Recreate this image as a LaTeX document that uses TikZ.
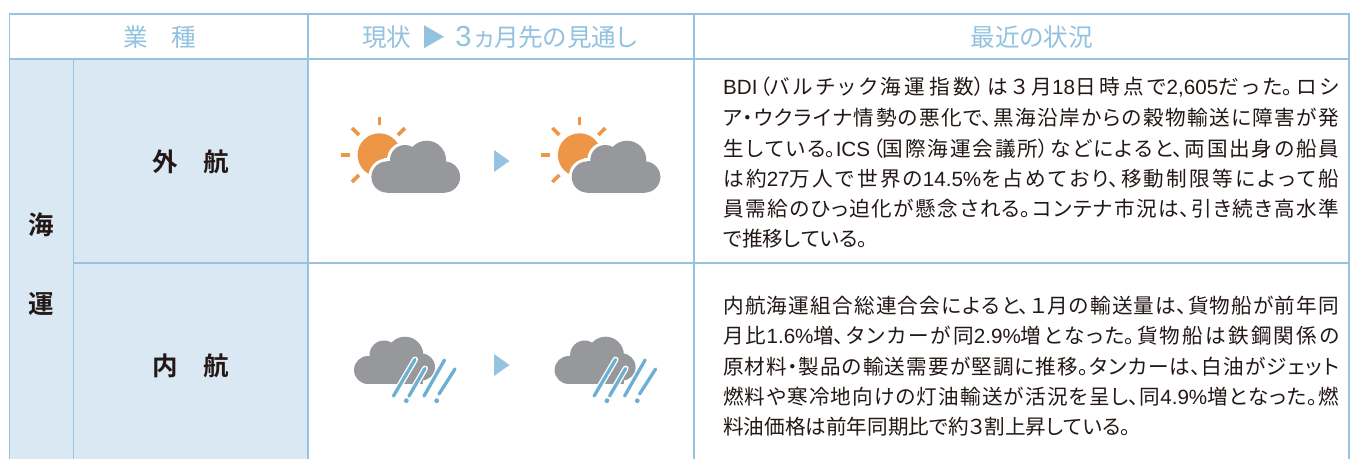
\documentclass[tikz,border=0pt]{standalone}
\usepackage{fontspec}
\setmainfont{Noto Sans CJK JP}[RawFeature=+palt]
\newfontfamily\jpbold{Noto Sans CJK JP Bold}[RawFeature=+palt]
\newfontfamily\latfont{Liberation Sans}
\newcommand{\lat}[1]{{\latfont #1}}
\XeTeXlinebreaklocale "ja"
\XeTeXlinebreakskip=0pt plus 2pt minus 2pt
\definecolor{rule}{HTML}{95C3E0}
\definecolor{band}{HTML}{DAE8F3}
\definecolor{headtxt}{HTML}{92C2DF}
\definecolor{sun}{HTML}{EE9648}
\definecolor{cloud}{HTML}{97989C}
\definecolor{rain}{HTML}{6BAFD2}
\definecolor{ink}{HTML}{231815}
\newcommand{\fullline}[1]{\parbox{616pt}{\tolerance=9999\hbadness=10000\hfuzz=40pt\parfillskip=0pt\relax #1}}
\newcommand{\lastline}[1]{\parbox{616pt}{\XeTeXlinebreakskip=0pt plus 1pt minus 1pt\spaceskip=0pt #1}}
\newcommand{\suncloud}[2]{%
 \begin{scope}[shift={(#1,#2)}]
  \fill[sun] (59.3,55) circle (21.7);
  \foreach \a/\b/\c/\d in {59.3/17/59.3/25,32/28/39/35,85/28/78/35,21/55/30/55,32/82/39/75}{
   \draw[sunray] (\a,\b) -- (\c,\d);}
  \begin{scope}[cloudhalo]
   \cloudshapeA
  \end{scope}
  \begin{scope}[cloudfill]
   \cloudshapeA
  \end{scope}
 \end{scope}}
\newcommand{\cloudshapeA}{%
  \path (67,77) circle (15.6);
  \path (124.5,77) circle (15.6);
  \path (106.7,60) circle (19.3);
  \path (85,60) circle (15);
  \path (67,61.4) rectangle (124.5,92.6);}
\newcommand{\raincloud}[2]{%
 \begin{scope}[shift={(#1,#2)}]
  \begin{scope}[cloudfill]
   \path (28,50) circle (14);
   \path (65,35) circle (18.3);
   \path (44,35) circle (14.5);
   \path (81.5,47) circle (13.5);
   \path (28,42) rectangle (83,63.7);
  \end{scope}
  \draw[rainhalo] (53.5,76) -- (75,39.5);
  \draw[rainhalo] (69,76) -- (85,48.5);
  \draw[rainline] (53.5,76) -- (75,39.5);
  \draw[rainline] (69,76) -- (85,48.5);
  \draw[rainline] (84,76) -- (104.5,40);
  \draw[rainline] (99,74) -- (115,49);
  \fill[rain] (66.3,80.7) circle (2.4);
  \fill[rain] (96.7,80.7) circle (2.4);
 \end{scope}}
\tikzset{
 gridline/.style={draw=rule,line width=1.9pt},
 thinline/.style={draw=rule,line width=1.5pt},
 sunray/.style={draw=sun,line width=3.6pt},
 cloudfill/.style={every path/.append style={fill=cloud,draw=none}},
 cloudhalo/.style={every path/.append style={fill=white,draw=white,line width=6pt}},
 rainhalo/.style={draw=white,line width=6pt,line cap=round},
 rainline/.style={draw=rain,line width=3.3pt,line cap=round},
 headtext/.style={text=headtxt,font=\fontsize{24.6}{26}\selectfont,inner sep=0pt,anchor=center},
 rowtext/.style={text=ink,font=\jpbold\fontsize{25.5}{27}\selectfont,inner sep=0pt,anchor=center},
 bodytext/.style={text=ink,font=\fontsize{20.6}{24}\selectfont,inner sep=0pt,anchor=west,text depth=0pt},
 triangle/.style={fill=rule,draw=none}
}
\begin{document}
\begin{tikzpicture}[x=1pt,y=-1pt]
\useasboundingbox (0,0) rectangle (1361,459);
\fill[white] (0,0) rectangle (1361,459);
\fill[band] (9,59) rectangle (308,459);
% grid
\draw[gridline] (9.5,459) -- (9.5,14) -- (1349,14) -- (1349,459);
\draw[gridline] (9.5,59) -- (1349,59);
\draw[thinline] (73.5,59) -- (73.5,459);
\draw[thinline] (308,14) -- (308,459);
\draw[gridline] (694,14) -- (694,459);
\draw[gridline] (73.5,263) -- (1349,263);
% headers
\node[headtext] (hA) at (160,37) {業\hspace{0.95em}種};
\node[headtext] (hB) at (499.5,37) {現状\hspace{0.4em}▶\hspace{0.4em}{\fontsize{29}{30}\selectfont\lat{3}}\hspace{0.1em}ヵ月先の見通し};
\node[headtext] (hC) at (1032,37) {最近の状況};
% row labels
\node[rowtext] (kaiA) at (41.5,225) {海};
\node[rowtext] (kaiB) at (41.5,304) {運};
\node[rowtext] (gai) at (191,162) {外\hspace{1em}航};
\node[rowtext] (nai) at (191,366) {内\hspace{1em}航};
% icons
\suncloud{320}{100}
\suncloud{520.3}{100}
\raincloud{340}{320}
\raincloud{540.6}{320}
\fill[triangle] (494,150) -- (509.5,161) -- (494,172) -- cycle;
\fill[triangle] (494,354) -- (509.5,365) -- (494,376) -- cycle;
% body text
\node[bodytext] (a1) at (723,85) {\fullline{\lat{BDI}\hspace{0.12em}（バルチック海運指数）は３月\lat{18}日時点で\lat{2,605}だった。ロシ}};
\node[bodytext] (a2) at (723,115) {\fullline{ア・ウクライナ情勢の悪化で、黒海沿岸からの穀物輸送に障害が発}};
\node[bodytext] (a3) at (723,146) {\fullline{生している。\lat{ICS}\hspace{0.12em}（国際海運会議所）などによると、両国出身の船員}};
\node[bodytext] (a4) at (723,176) {\fullline{は約\lat{27}万人で世界の\lat{14.5\%}を占めており、移動制限等によって船}};
\node[bodytext] (a5) at (723,206) {\fullline{員需給のひっ迫化が懸念される。コンテナ市況は、引き続き高水準}};
\node[bodytext] (a6) at (723,236) {\lastline{で推移している。}};
\node[bodytext] (b1) at (723,303) {\fullline{内航海運組合総連合会によると、１月の輸送量は、貨物船が前年同}};
\node[bodytext] (b2) at (723,333) {\fullline{月比\lat{1.6\%}増、タンカーが同\lat{2.9\%}増となった。貨物船は鉄鋼関係の}};
\node[bodytext] (b3) at (723,364) {\fullline{原材料・製品の輸送需要が堅調に推移。タンカーは、白油がジェット}};
\node[bodytext] (b4) at (723,394) {\fullline{燃料や寒冷地向けの灯油輸送が活況を呈し、同\lat{4.9\%}増となった。燃}};
\node[bodytext] (b5) at (723,424) {\lastline{料油価格は前年同期比で約３割上昇している。}};
\end{tikzpicture}
\end{document}
